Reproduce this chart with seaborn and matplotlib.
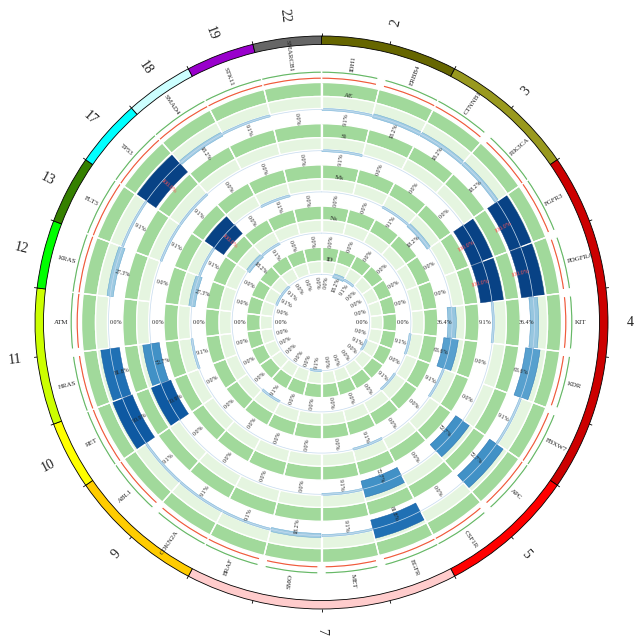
import numpy as np
import pandas as pd
import seaborn as sns
import matplotlib
matplotlib.use("Agg")
from matplotlib import pyplot as plt

# genes in clockwise order, with their chromosome
genes = ["IDH1", "ERBB4", "CTNNB1", "PIK3CA", "FGFR3", "PDGFRA", "KIT", "KDR", "FBXW7",
         "APC", "CSF1R", "EGFR", "MET", "SMO", "BRAF", "CDKN2A", "ABL1", "RET",
         "HRAS", "ATM", "KRAS", "FLT3", "TP53", "SMAD4", "STK11", "SMARCB1"]
chroms = ["2", "2", "3", "3", "4", "4", "4", "4", "4", "5", "5", "7", "7", "7", "7",
          "9", "9", "10", "11", "11", "12", "13", "17", "18", "19", "22"]
chrom_colors = {"2": "#666600", "3": "#99991e", "4": "#cc0000", "5": "#ff0000",
                "7": "#ffcccc", "9": "#ffcc00", "10": "#ffff00", "11": "#ccff00",
                "12": "#00ff00", "13": "#358000", "17": "#00ffff", "18": "#ccffff",
                "19": "#9900cc", "22": "#666666"}

# mutation frequency (%) per sample track, outer to inner
tracks = ["AE", "Si", "Ms", "Ns", "ID"]
AE = [9.1, 18.2, 18.2, 18.2, 100.0, 100.0, 36.4, 63.6, 9.1, 72.7, 0.0, 81.8, 9.1,
      18.2, 9.1, 9.1, 9.1, 90.9, 81.8, 0.0, 27.3, 9.1, 100.0, 18.2, 9.1, 0.0]
Si = [9.1, 0.0, 0.0, 0.0, 100.0, 100.0, 9.1, 0.0, 0.0, 72.7, 0.0, 72.7, 9.1,
      0.0, 0.0, 0.0, 0.0, 90.9, 72.7, 0.0, 0.0, 9.1, 9.1, 0.0, 0.0, 0.0]
Ms = [0.0, 0.0, 9.1, 18.2, 0.0, 0.0, 36.4, 63.6, 9.1, 0.0, 0.0, 9.1, 0.0,
      0.0, 0.0, 0.0, 0.0, 0.0, 9.1, 0.0, 27.3, 9.1, 100.0, 0.0, 9.1, 0.0]
Ns = [0.0, 0.0, 0.0, 0.0, 0.0, 0.0, 0.0, 9.1, 0.0, 9.1, 0.0, 0.0, 0.0,
      0.0, 0.0, 9.1, 0.0, 0.0, 0.0, 0.0, 0.0, 0.0, 18.2, 9.1, 0.0, 0.0]
ID = [0.0, 18.2, 9.1, 0.0, 0.0, 0.0, 0.0, 0.0, 9.1, 0.0, 0.0, 0.0, 0.0,
      9.1, 0.0, 0.0, 0.0, 0.0, 0.0, 0.0, 0.0, 9.1, 9.1, 0.0, 0.0, 0.0]

# gene boundaries where the red / green link lines are broken
line_breaks = [1, 3, 5, 6, 7, 8, 10, 12, 13, 14, 16, 19]

df = pd.DataFrame({"gene": genes, "chrom": chroms, "AE": AE, "Si": Si,
                   "Ms": Ms, "Ns": Ns, "ID": ID})

sns.set_theme(style="white")
plt.rcParams["font.family"] = ["Liberation Serif", "DejaVu Serif"]
blues = sns.color_palette("Blues", as_cmap=True)

n = len(df)
step = 2 * np.pi / n
theta = (np.arange(n) + 0.5) * step
bounds = np.arange(n + 1) * step


def radial(t):
    deg = np.degrees(t) % 360
    rot = 90 - deg
    flip = deg > 180
    if flip:
        rot += 180
    return rot, flip


def bar_color(v):
    return blues(np.interp(v, [0, 40, 72.7, 81.8, 100], [0.33, 0.4, 0.625, 0.75, 0.93]))


fig = plt.figure(figsize=(6.4, 6.37), dpi=100)
RM = 314
ax = fig.add_axes([(321.5 - RM) / 640, (314.5 - RM) / 637, 2 * RM / 640, 2 * RM / 637],
                  projection="polar")
ax.set_theta_zero_location("N")
ax.set_theta_direction(-1)
ax.set_ylim(0, RM)
ax.axis("off")

# ideogram
for ch, grp in df.groupby("chrom", sort=False):
    i0, i1 = grp.index.min(), grp.index.max() + 1
    mid = (bounds[i0] + bounds[i1]) / 2
    ax.bar(mid, 8.5, width=bounds[i1] - bounds[i0], bottom=278, color=chrom_colors[ch],
           edgecolor="black", linewidth=0.6, align="center")
    rot, flip = radial(mid)
    ax.text(mid, 309, ch, rotation=rot, rotation_mode="anchor", ha="center",
            va="center", fontsize=10, color="#222222")
ax.vlines(bounds[:-1], 286.5, 289.5, colors="black", linewidth=0.6)

# gene names
for t, g in zip(theta, df["gene"]):
    rot, flip = radial(t)
    ax.text(t, 253, g, rotation=rot, rotation_mode="anchor",
            ha="right" if flip else "left", va="center", fontsize=5, color="#222222")

# green and red lines, broken at some gene boundaries
gap = np.radians(1.6)
for i in range(n):
    a = bounds[i] + (gap / 2 if i in line_breaks else 0)
    b = bounds[i + 1] - (gap / 2 if (i + 1) in line_breaks else 0)
    ax.bar((a + b) / 2, 2.6, width=b - a, bottom=249, color="#66b866", align="center")
    ax.bar((a + b) / 2, 2.6, width=b - a, bottom=243, color="#f05a3c", align="center")

# sample tracks
dense = np.linspace(0, 2 * np.pi, 400)
for k, name in enumerate(tracks):
    R = 240 - 41.2 * k
    ax.bar(theta, 14, width=step, bottom=R - 14, color="#a1d99b", align="center")
    ax.bar(theta, 12, width=step, bottom=R - 26, color="#e5f5e0", align="center")
    ax.vlines(bounds, R - 26, R, colors="white", linewidth=0.9)
    base = R - 27
    ax.plot(dense, np.full_like(dense, base), color="#c6dbef", linewidth=0.5)
    vals = df[name].to_numpy()
    h = vals / 100 * 23
    for t, v, hh in zip(theta, vals, h):
        if v <= 0:
            continue
        c = bar_color(v)
        ax.bar(t, hh, width=step * 0.98, bottom=base - hh / 2, color=c,
               edgecolor=blues(min(0.45 + v / 200, 1.0)), linewidth=0.3, align="center")
    for t, v in zip(theta, vals):
        rot, flip = radial(t)
        ax.text(t, R - 35, f"{v:.1f}%", rotation=rot, rotation_mode="anchor",
                ha="center", va="center", fontsize=4.3,
                color="#ff5555" if v >= 100 else "#222222")
    ax.text(theta[0], R - 12, name, rotation=-np.degrees(theta[0]), rotation_mode="anchor",
            ha="center", va="center", fontsize=5, color="#222222")

fig.savefig("out.png", dpi=100, facecolor="white")
